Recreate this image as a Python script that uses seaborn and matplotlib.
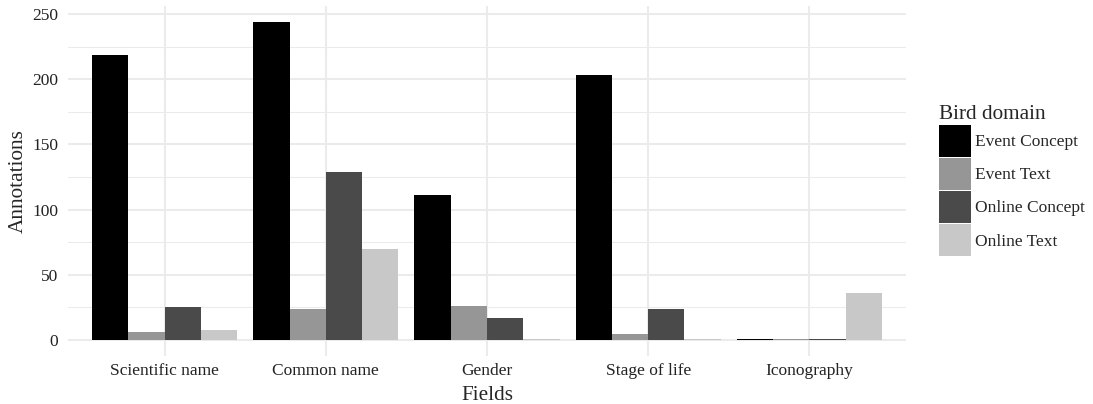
import numpy as np
import pandas as pd
import matplotlib
matplotlib.use('Agg')
import matplotlib.pyplot as plt
import seaborn as sns

sns.set_style('white')
plt.rcParams['font.family'] = ['Liberation Serif', 'DejaVu Serif']

fields = ['Scientific name', 'Common name', 'Gender', 'Stage of life', 'Iconography']
domains = ['Event Concept', 'Event Text', 'Online Concept', 'Online Text']
event_concept = [219, 244, 111, 203, 1]
event_text = [6, 24, 26, 5, 1]
online_concept = [25, 129, 17, 24, 1]
online_text = [8, 70, 1, 1, 36]
colours = ['#000000', '#969696', '#4a4a4a', '#c8c8c8']

rows = []
for dom, vals in zip(domains, [event_concept, event_text, online_concept, online_text]):
    for f, v in zip(fields, vals):
        rows.append({'Fields': f, 'Annotations': v, 'Bird domain': dom})
df = pd.DataFrame(rows)

fig = plt.figure(figsize=(10.93, 4.04), dpi=100)
ax = fig.add_axes([68/1093, 48/404, (906-68)/1093, (356-6)/404])

sns.barplot(data=df, x='Fields', y='Annotations', hue='Bird domain',
            order=fields, hue_order=domains, palette=colours,
            saturation=1, width=0.9, gap=0, ax=ax, zorder=3,
            linewidth=0, edgecolor='none')

ax.set_xlim(-0.6, 4.6)
ax.set_ylim(-12.2, 256.2)
ax.set_yticks([0, 50, 100, 150, 200, 250])
ax.set_yticks([25, 75, 125, 175, 225], minor=True)
ax.grid(True, which='major', color='#ebebeb', linewidth=1.45, zorder=0)
ax.grid(True, which='minor', axis='y', color='#ebebeb', linewidth=0.75, zorder=0)
ax.set_axisbelow(True)
for s in ax.spines.values():
    s.set_visible(False)
ax.tick_params(axis='both', which='both', length=0, labelsize=12.5, labelcolor='#222222')
ax.tick_params(axis='x', pad=5)
ax.tick_params(axis='y', pad=7)
ax.set_xlabel('Fields', fontsize=15.3, labelpad=5)
ax.set_ylabel('Annotations', fontsize=15.3, labelpad=3.5)

ax.legend_.remove()
handles, labels = ax.get_legend_handles_labels()
leg = fig.legend(handles[:4], labels[:4], title='Bird domain', loc='upper left',
                 bbox_to_anchor=(939/1093, 1 - 105/404), frameon=False,
                 fontsize=12.5, title_fontsize=15.3, handlelength=1.84,
                 handleheight=2.46, labelspacing=0.06, handletextpad=0.23,
                 borderaxespad=0, borderpad=0)
leg._legend_box.align = 'left'

fig.savefig('out.png', dpi=100)
